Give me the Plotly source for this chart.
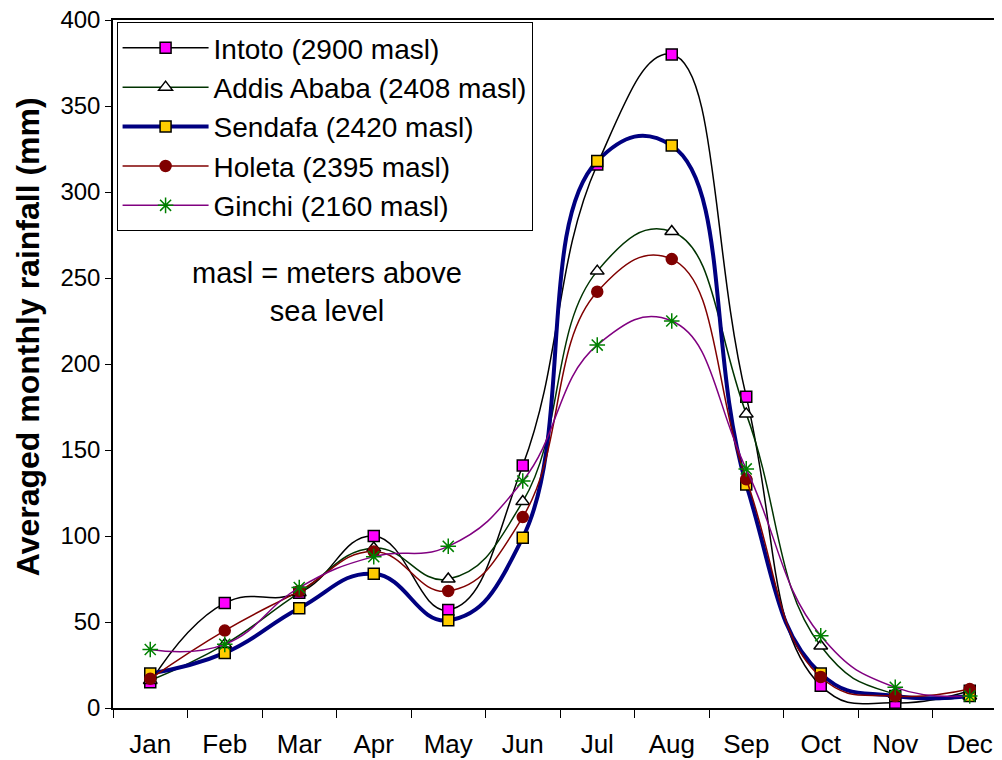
import plotly.graph_objects as go

months = ["Jan", "Feb", "Mar", "Apr", "May", "Jun", "Jul", "Aug", "Sep", "Oct", "Nov", "Dec"]

intoto = [15, 61, 67, 100, 57, 141, 316, 380, 181, 13, 3, 10]
addis = [16, 37, 67, 93, 75, 120, 254, 277, 171, 36, 8, 7]
sendafa = [20, 32, 58, 78, 51, 99, 318, 327, 130, 20, 7, 7]
holeta = [17, 45, 68, 91, 68, 111, 242, 261, 133, 18, 7, 11]
ginchi = [34, 37, 70, 88, 94, 132, 211, 225, 139, 42, 12, 7]

names = ["Intoto (2900 masl)", "Addis Ababa (2408 masl)", "Sendafa (2420 masl)",
         "Holeta (2395 masl)", "Ginchi (2160 masl)"]

fig = go.Figure()

def add(y, name, lcolor, lwidth, symbol, mcolor, mline, msize):
    fig.add_trace(go.Scatter(
        x=months, y=y, name=name, mode="lines+markers",
        line=dict(color=lcolor, width=lwidth, shape="spline", smoothing=1.3),
        marker=dict(symbol=symbol, color=mcolor, size=msize,
                    line=dict(color=mline, width=1.5)),
    ))

add(intoto, names[0], "#000000", 1.5, "square", "#FF00FF", "#000000", 11)
add(addis, names[1], "#003300", 1.5, "triangle-up", "#FFFFFF", "#000000", 12)
add(sendafa, names[2], "#000080", 4, "square", "#FFCC00", "#000000", 11)
add(holeta, names[3], "#800000", 1.5, "circle", "#800000", "#800000", 11)
add(ginchi, names[4], "#800080", 1.5, "asterisk-open", "#008000", "#008000", 13)

fig.add_annotation(
    x=0.239, y=0.605, xref="paper", yref="paper", xanchor="center", yanchor="middle",
    text="masl = meters above<br>sea level", showarrow=False,
    font=dict(family="Arial, Liberation Sans", size=29, color="#000000"),
    align="center",
)

# y-axis title placed as rotated text (sits above the axis centre in the reference)
fig.add_annotation(
    x=-0.095, y=0.539, xref="paper", yref="paper", xanchor="center", yanchor="middle",
    text="<b>Averaged monthly rainfall (mm)</b>", showarrow=False, textangle=-90,
    font=dict(family="Arial, Liberation Sans", size=32, color="#000000"),
)

fig.update_layout(
    width=1002, height=760,
    margin=dict(l=105, r=3, t=12, b=60),
    paper_bgcolor="white", plot_bgcolor="white",
    font=dict(family="Arial, Liberation Sans", color="#000000", size=24),
    showlegend=True,
    legend=dict(
        x=0.004, y=0.997, xanchor="left", yanchor="top",
        bgcolor="white", bordercolor="#000000", borderwidth=1,
        font=dict(size=28, family="Arial, Liberation Sans"),
        itemwidth=86, tracegroupgap=4,
    ),
    xaxis=dict(
        type="category", range=[-0.5, 11.5], automargin=False,
        showline=True, linecolor="#000000", linewidth=2, mirror=True,
        ticks="outside", ticklen=8, tickcolor="#000000", tickwidth=1,
        tickson="boundaries", showgrid=False, zeroline=False,
        tickfont=dict(size=26), ticklabelstandoff=12, ticklabeloverflow="allow",
    ),
    yaxis=dict(
        range=[0, 400], tickvals=[0, 50, 100, 150, 200, 250, 300, 350, 400],
        automargin=False,
        showline=True, linecolor="#000000", linewidth=1.5,
        ticks="outside", ticklen=6, tickcolor="#000000",
        showgrid=False, zeroline=False,
        tickfont=dict(size=24), ticklabeloverflow="allow",
    ),
)

fig.write_html("out.html")
